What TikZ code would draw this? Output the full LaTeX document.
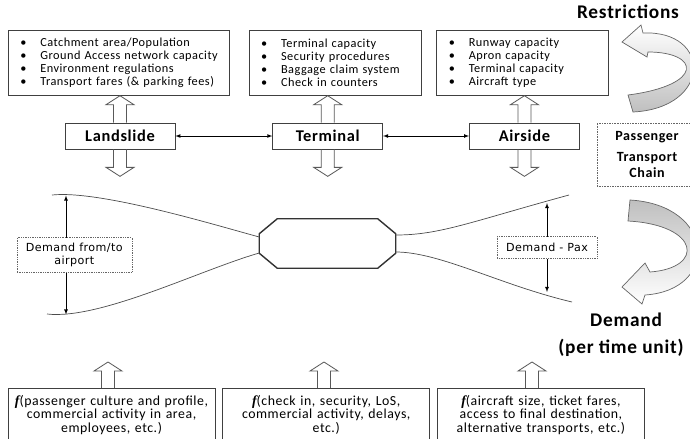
\documentclass[tikz,border=0pt]{standalone}
\usepackage{fontspec}
\setmainfont{Carlito}[LetterSpace=4]
\newfontfamily\notefont{DejaVu Sans}[LetterSpace=4]
\newfontfamily\fnfont{Liberation Serif}
\usetikzlibrary{shapes,arrows,positioning,calc,fit}

\newcommand{\itm}{\makebox[6mm][l]{\textbullet}}
\newcommand{\fn}{{\fnfont\bfseries\itshape f}}
% hollow block arrow from #1 (tail) to #2 (tip)
\newcommand{\hollowarrow}[2]{%
  \path (#2) coordinate (ha tip) ($(#2)!0.27cm!(#1)$) coordinate (ha base);
  \draw[fat] ($(#1)!0.195cm!90:(#2)$) -- ($(ha base)!0.195cm!90:(ha tip)$)
    -- ($(ha base)!0.42cm!90:(ha tip)$) -- (ha tip)
    -- ($(ha base)!0.42cm!-90:(ha tip)$) -- ($(ha base)!0.195cm!-90:(ha tip)$)
    -- ($(#1)!0.195cm!-90:(#2)$);}

\begin{document}
\begin{tikzpicture}[
  x=0.03cm, y=-0.03cm,
  listbox/.style={rectangle, draw=black!75, line width=0.6pt, anchor=north west, minimum height=1.95cm, inner xsep=0.36cm, align=left, font=\fontsize{10.5}{11}\selectfont},
  stage/.style={rectangle, draw=black!75, line width=0.6pt, minimum width=3.3cm, minimum height=0.78cm, font=\bfseries\fontsize{14}{15}\selectfont},
  factor/.style={rectangle, draw=black!75, line width=0.6pt, anchor=north, text width=5.91cm, inner xsep=0.15cm, inner ysep=0.2cm, align=center, font=\fontsize{11.8}{11.5}\selectfont},
  note/.style={rectangle, draw=black!60, densely dotted, fill=white, align=center, font=\notefont\fontsize{9.5}{11}\selectfont},
  heading/.style={font=\bfseries\fontsize{16.5}{17}\selectfont},
  arrow/.style={latex-latex, line width=0.5pt},
  fat/.style={draw=black!65, line width=0.7pt, line join=miter},
  curve/.style={draw=black!70, line width=0.6pt},
  turn/.style={draw=black!60, line width=0.6pt}
]
\useasboundingbox (0,0) rectangle (690,438);

% Restrictions per stage
\node[listbox, text width=5.91cm] (catch) at (8,30) {\itm Catchment area/Population\\ \itm Ground Access network capacity\\ \itm Environment regulations\\ \itm Transport fares (\& parking fees)\\[-3pt]};
\node[listbox, text width=4.44cm, right=0.57cm of catch] (termcap) {\itm Terminal capacity\\ \itm Security procedures\\ \itm Baggage claim system\\ \itm Check in counters\\[-3pt]};
\node[listbox, text width=4.44cm, right=0.45cm of termcap] (aircap) {\itm Runway capacity\\ \itm Apron capacity\\ \itm Terminal capacity\\ \itm Aircraft type\\[-3pt]};

% Stages of the chain
\node[stage] (land) at (120,136) {Landslide};
\node[stage, right=2.91cm of land] (term) {Terminal};
\node[stage, right=2.58cm of term] (air) {Airside};
\draw[arrow] (land) -- (term);
\draw[arrow] (term) -- (air);

\node[note, font=\bfseries\fontsize{12}{13}\selectfont, minimum width=3cm, minimum height=1.89cm] (chain) at (647,154.5) {Passenger\\[5pt]Transport\\Chain};

\coordinate (landUp) at (land.north |- catch.south);
\coordinate (termUp) at (term.north |- termcap.south);
\coordinate (airUp) at (air.north |- aircap.south);
\hollowarrow{land.north}{landUp}
\hollowarrow{term.north}{termUp}
\hollowarrow{air.north}{airUp}
\coordinate (landDn) at ($(land.south)+(0,27)$);
\coordinate (termDn) at ($(term.south)+(0,27)$);
\coordinate (airDn) at ($(air.south)+(0,27)$);
\hollowarrow{land.south}{landDn}
\hollowarrow{term.south}{termDn}
\hollowarrow{air.south}{airDn}

% Demand funnel
\node[minimum width=4.08cm, minimum height=1.47cm] (hub) at (327.5,243.5) {};
\draw[draw=black!80, line width=1.2pt] ($(hub.north west)+(18,0)$) -- ($(hub.north east)+(-18,0)$)
  -- ($(hub.north east)+(0,15)$) -- ($(hub.south east)+(0,-15)$) -- ($(hub.south east)+(-18,0)$)
  -- ($(hub.south west)+(18,0)$) -- ($(hub.south west)+(0,-15)$) -- ($(hub.north west)+(0,15)$) -- cycle;
\coordinate (lt) at (52,195);
\coordinate (lb) at (47,314);
\coordinate (rt) at (569,195);
\coordinate (rb) at (572,302);
\draw[curve] (lt) .. controls (100,190) and (215,225) .. ($(hub.west)+(0,-6.5)$);
\draw[curve] (lb) .. controls (100,320) and (200,270) .. ($(hub.west)+(0,9.5)$);
\draw[curve] ($(hub.east)+(0,-8.5)$) .. controls (440,235) and (470,222) .. (rt);
\draw[curve] ($(hub.east)+(0,8.5)$) .. controls (440,252) and (500,285) .. (rb);

\coordinate (dlt) at (66,195.5);
\coordinate (dlb) at (66,314.5);
\draw[arrow] (dlt) -- node[note, xshift=0.25cm, minimum width=3.45cm, minimum height=1.05cm] (fromto) {Demand from/to\\airport} (dlb);
\coordinate (drt) at (547,203);
\coordinate (drb) at (547,292);
\draw[arrow] (drt) -- node[note, minimum width=3cm, minimum height=0.66cm] (pax) {Demand - Pax} (drb);

% Restrictions / Demand turn arrows
\draw[turn, top color=white, bottom color=black!25] (633,112) -- (628,95) .. controls (705,85) and (700,52) .. (648,52) -- (647,57) -- (622,42) -- (641,25) -- (643,33) .. controls (712,30) and (712,108) .. (633,112) -- cycle;
\draw[turn, top color=black!25, bottom color=white] (630,200) .. controls (715,205) and (720,290) .. (645,295) -- (642,304) -- (622,287) -- (645,263) -- (650,272) .. controls (705,268) and (700,225) .. (628,221) -- cycle;
\node[heading] (restr) at (628,12) {Restrictions};
\node[heading] (dem) at (626,320) {Demand};
\node[heading] (unit) at (621,348) {(per time unit)};

% Demand drivers
\node[factor] (paxf) at (111.5,388) {\fn(passenger culture and profile,\\commercial activity in area,\\employees, etc.)};
\node[factor, right=0.21cm of paxf] (procf) {\fn(check in, security, LoS,\\commercial activity, delays,\\etc.)};
\node[factor, right=0.21cm of procf] (airf) {\fn(aircraft size, ticket fares,\\access to final destination,\\alternative transports, etc.)};
\coordinate (paxUp) at (108,362);
\coordinate (procUp) at (324,362);
\coordinate (airfUp) at (532,362);
\coordinate (paxBase) at (paxf.north -| paxUp);
\coordinate (procBase) at (procf.north -| procUp);
\coordinate (airfBase) at (airf.north -| airfUp);
\hollowarrow{paxBase}{paxUp}
\hollowarrow{procBase}{procUp}
\hollowarrow{airfBase}{airfUp}
\end{tikzpicture}
\end{document}
